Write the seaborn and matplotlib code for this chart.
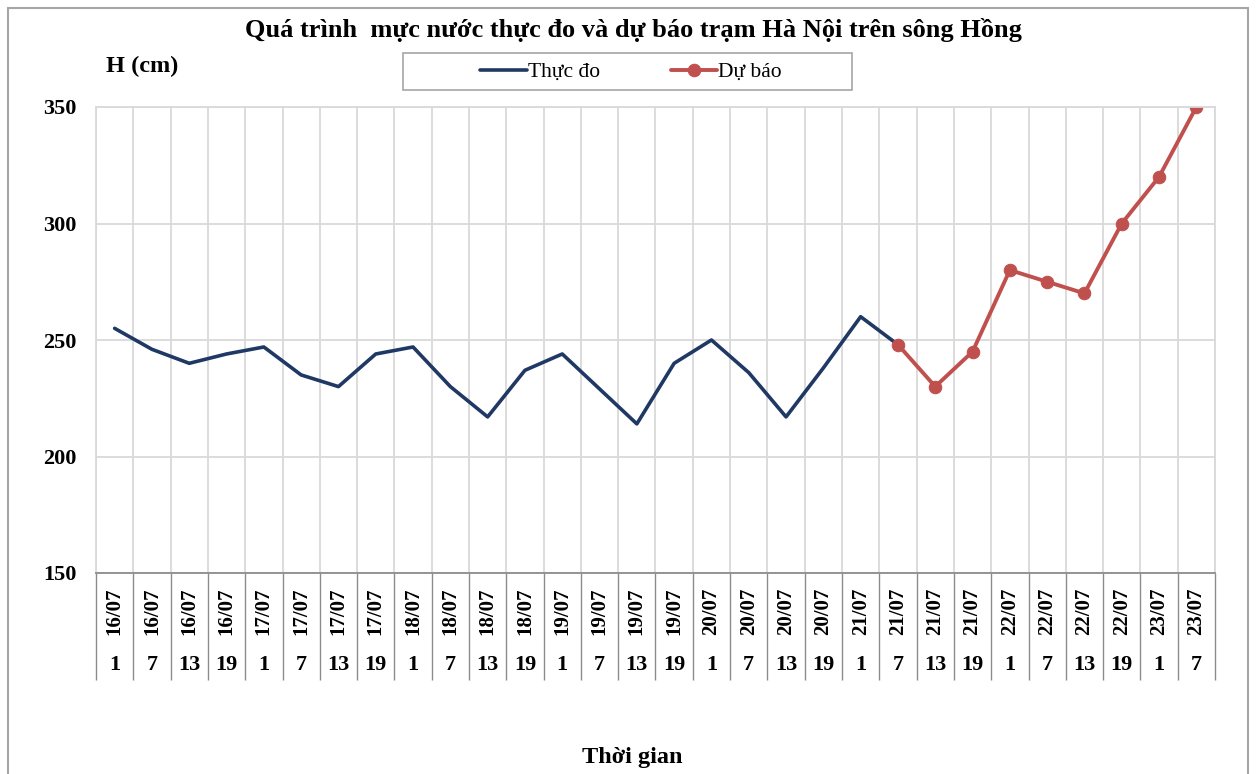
"""
Mực nước thực đo và dự báo trạm Hà Nội — sông Hồng
"""

import numpy as np
import matplotlib
matplotlib.use("Agg")
import matplotlib.pyplot as plt
import matplotlib.transforms as mtransforms
from matplotlib.patches import Rectangle
import seaborn as sns

# dữ liệu
dates = ["16/07"] * 4 + ["17/07"] * 4 + ["18/07"] * 4 + ["19/07"] * 4 + \
        ["20/07"] * 4 + ["21/07"] * 4 + ["22/07"] * 4 + ["23/07"] * 2
hours = ["1", "7", "13", "19"] * 7 + ["1", "7"]

# thực đo: 16/07 1h -> 21/07 7h
observed = [255, 246, 240, 244, 247, 235, 230, 244, 247, 230, 217, 237,
            244, 229, 214, 240, 250, 236, 217, 238, 260, 248]
# dự báo: 21/07 7h -> 23/07 7h
forecast = [248, 230, 245, 280, 275, 270, 300, 320, 350]

yticks = [150, 200, 250, 300, 350]

NAVY = "#1F3864"
RED = "#C0504D"
GRID = "#D9D9D9"
DARK = "#8C8C8C"

sns.set_style("white")
plt.rcParams["font.family"] = ["Liberation Serif", "DejaVu Serif"]
plt.rcParams["text.color"] = "black"
plt.rcParams["ytick.color"] = "black"

W, H = 1256, 774
fig = plt.figure(figsize=(W / 100, H / 100), dpi=100)
ax = fig.add_axes([96 / W, 1 - 573 / H, (1215 - 96) / W, (573 - 107) / H])

n = len(dates)
x_obs = np.arange(len(observed))
x_fc = np.arange(len(observed) - 1, len(observed) - 1 + len(forecast))

sns.lineplot(x=x_obs, y=observed, ax=ax, color=NAVY, linewidth=2.6,
             label="Thực đo")
sns.lineplot(x=x_fc, y=forecast, ax=ax, color=RED, linewidth=2.8,
             marker="o", markersize=9, markeredgecolor=RED, label="Dự báo")

ax.set_xlim(-0.5, n - 0.5)
ax.set_ylim(yticks[0], yticks[-1])
ax.set_yticks(yticks)
ax.set_yticklabels([str(v) for v in yticks], fontsize=16, fontweight="bold")
ax.set_xticks([])
ax.set_xticks(np.arange(n + 1) - 0.5, minor=True)
ax.tick_params(axis="y", length=0, pad=14)
ax.tick_params(axis="x", which="both", length=0, labelbottom=False)
ax.grid(True, axis="y", color=GRID, linewidth=1.3)
ax.grid(True, axis="x", which="minor", color=GRID, linewidth=1.3)
ax.set_xlabel("")
ax.set_ylabel("")
for side in ["left", "top", "right"]:
    ax.spines[side].set_color(GRID)
    ax.spines[side].set_linewidth(1.3)
ax.spines["bottom"].set_color(DARK)
ax.spines["bottom"].set_linewidth(1.3)

# bảng nhãn trục hoành (ngày / giờ)
trans = mtransforms.blended_transform_factory(ax.transData, ax.transAxes)
ax.vlines(np.arange(n + 1) - 0.5, -0.23, 0, transform=trans, color=DARK,
          linewidth=1.0, clip_on=False)
for i, (d, h) in enumerate(zip(dates, hours)):
    ax.text(i, -0.082, d, transform=trans, rotation=90, ha="center",
            va="center", fontsize=15, fontweight="bold")
    ax.text(i, -0.197, h, transform=trans, ha="center", va="center",
            fontsize=16, fontweight="bold")

fig.text(632 / W, 1 - 758 / H, "Thời gian", ha="center", va="center",
         fontsize=17.5, fontweight="bold")
fig.text(142 / W, 1 - 66 / H, "H (cm)", ha="center", va="center",
         fontsize=17.5, fontweight="bold")
fig.text(633 / W, 1 - 30 / H, "Quá trình  mực nước thực đo và dự báo trạm Hà Nội trên sông Hồng",
         ha="center", va="center", fontsize=19, fontweight="bold")

# chú giải
leg = ax.legend(loc="center", bbox_to_anchor=(631 / W, 1 - 72 / H),
                bbox_transform=fig.transFigure, ncol=2, frameon=False,
                fontsize=15.5, handlelength=2.15, handletextpad=0.05,
                columnspacing=3.3)
fig.patches.append(Rectangle((403 / W, 1 - 90 / H), 449 / W, 37 / H,
                             transform=fig.transFigure, fill=False,
                             edgecolor="#A6A6A6", linewidth=1.2))
# khung ngoài
fig.patches.append(Rectangle((8 / W, -0.01), 1240 / W, 1 - 8 / H + 0.01,
                             transform=fig.transFigure, fill=False,
                             edgecolor="#A6A6A6", linewidth=1.5))

fig.savefig("out.png", dpi=100)
plt.close(fig)
